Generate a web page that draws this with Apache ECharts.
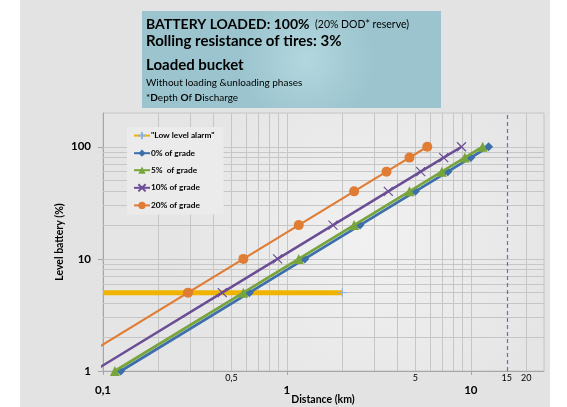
<!DOCTYPE html>
<html><head><meta charset="utf-8">
<script src="https://cdn.jsdelivr.net/npm/echarts@6/dist/echarts.min.js"></script>
<style>html,body{margin:0;padding:0;background:#fff}#c{width:567px;height:407px}</style>
</head><body><div id="c"></div><script>
// ---- data ----
const seriesNames = ['"Low level alarm"', '0% of grade', '5%  of grade', '10% of grade', '20% of grade'];
const levels = [1, 5, 10, 20, 40, 60, 80, 100];
const dist0 = [0.125, 0.625, 1.25, 2.5, 5, 7.5, 10, 12.5];
const dist5 = [0.116, 0.58, 1.16, 2.32, 4.64, 6.96, 9.28, 11.6];
const dist10 = [0.089, 0.445, 0.89, 1.78, 3.56, 5.34, 7.12, 8.9];
const dist20 = [0.058, 0.29, 0.58, 1.16, 2.32, 3.48, 4.64, 5.8];
const alarmDist = [0.1, 2];
const alarmLevel = [5, 5];
const limitDist = 15.7;
// tick labels
const xTickValues = [0.1, 1, 10];
const xTickLabels = ['0,1', '1', '10'];
const xSubValues = [0.5, 5, 20];
const xSubLabels = ['0,5', '5', '20'];
const limitLabel = '15';
const yTickValues = [1, 10, 100];
const yTickLabels = ['1', '10', '100'];
const xGridValues = [0.2, 0.3, 0.4, 0.5, 0.6, 0.7, 0.8, 0.9, 1, 2, 3, 4, 5, 6, 7, 8, 9, 10, 20];
const yGridValues = [2, 3, 4, 5, 6, 7, 8, 9, 10, 20, 30, 40, 50, 60, 70, 80, 90, 100];
const xTitle = 'Distance (km)';
const yTitle = 'Level battery (%)';

function lookup(vals, labs) {
  return function (v) {
    for (let i = 0; i < vals.length; i++) if (Math.abs(v - vals[i]) / vals[i] < 1e-6) return labs[i];
    return '';
  };
}
function pairs(xs, ys) { return xs.map((x, i) => [x, ys[i]]); }

const FONT = 'Lato';
const chart = echarts.init(document.getElementById('c'), null, {renderer: 'canvas'});

const crossPath = 'path://M0,0L10,10M10,0L0,10';
const plusPath = 'path://M5,0L5,10M0,5L10,5';
const subLabel = {show: true, position: 'start', distance: 3, fontFamily: FONT, fontSize: 9, color: '#000'};

chart.setOption({
  animation: false,
  backgroundColor: '#ffffff',
  graphic: [
    {type: 'rect', z: -10, silent: true, shape: {x: 20, y: 0, width: 530, height: 407}, style: {fill: '#e3e3e3'}},
    {type: 'rect', z: -5, silent: true, shape: {x: 142, y: 11, width: 299, height: 97},
      style: {fill: new echarts.graphic.RadialGradient(0.55, 0.5, 0.7, [{offset: 0, color: '#b3d7df'}, {offset: 1, color: '#9bc4ce'}])}},
    {type: 'text', x: 146, y: 24, style: {text: 'BATTERY LOADED: 100%', font: 'bold 14px Lato', fill: '#000', verticalAlign: 'middle'}},
    {type: 'text', x: 315, y: 25, style: {text: '(20% DOD* reserve)', font: '10.5px Lato', fill: '#000', verticalAlign: 'middle'}},
    {type: 'text', x: 146, y: 41, style: {text: 'Rolling resistance of tires: 3%', font: 'bold 15px Lato', fill: '#000', verticalAlign: 'middle'}},
    {type: 'text', x: 146, y: 65, style: {text: 'Loaded bucket', font: 'bold 15px Lato', fill: '#000', verticalAlign: 'middle'}},
    {type: 'text', x: 146, y: 83, style: {text: 'Without loading &unloading phases', font: '10px Lato', fill: '#000', verticalAlign: 'middle'}},
    {type: 'text', x: 146, y: 98, style: {text: '{n|*}{b|D}{n|epth }{b|O}{n|f }{b|D}{n|ischarge}', verticalAlign: 'middle',
      rich: {n: {fontFamily: FONT, fontSize: 10, color: '#000'}, b: {fontFamily: FONT, fontSize: 10, fontWeight: 'bold', color: '#000'}}}},
    {type: 'text', x: 323, y: 400, style: {text: xTitle, font: 'bold 10.5px Lato', fill: '#000', align: 'center', verticalAlign: 'middle'}},
    {type: 'text', x: 60, y: 242, rotation: Math.PI / 2, style: {text: yTitle, font: 'bold 10.5px Lato', fill: '#000', align: 'center', verticalAlign: 'middle'}}
  ],
  grid: {left: 103, right: 23, top: 113, bottom: 36, show: true, borderColor: '#c4c4c4', borderWidth: 1,
    backgroundColor: new echarts.graphic.RadialGradient(0.6, 0.5, 0.75, [{offset: 0, color: '#f1f1f1'}, {offset: 1, color: '#e5e5e5'}]),
    outerBoundsMode: 'none'},
  legend: {
    data: seriesNames, orient: 'vertical', left: 127, top: 127, padding: [4, 9, 5, 6], itemGap: 9,
    itemWidth: 16, itemHeight: 9, backgroundColor: '#ebebeb', z: 20,
    textStyle: {fontFamily: FONT, fontWeight: 'bold', fontSize: 8.3, color: '#000', padding: [0, 0, 0, -4]}
  },
  xAxis: {
    type: 'log', min: 0.1, max: 25, logBase: 10,
    axisLine: {show: true, lineStyle: {color: '#a6a6a6'}},
    axisTick: {show: true, length: 4, lineStyle: {color: '#a6a6a6'}},
    splitLine: {show: false}, minorSplitLine: {show: false},
    axisLabel: {formatter: lookup(xTickValues, xTickLabels), fontFamily: FONT, fontWeight: 'bold', fontSize: 11.5, color: '#000', margin: 13, showMaxLabel: false}
  },
  yAxis: {
    type: 'log', min: 1, max: 200, logBase: 10,
    axisLine: {show: true, lineStyle: {color: '#a6a6a6'}},
    axisTick: {show: true, length: 5, lineStyle: {color: '#a6a6a6'}},
    splitLine: {show: false},
    axisLabel: {formatter: lookup(yTickValues, yTickLabels), fontFamily: FONT, fontWeight: 'bold', fontSize: 11.5, color: '#000', margin: 12, showMaxLabel: false}
  },
  series: [
    {type: 'line', name: '_grid', data: [], z: 1, silent: true,
      markLine: {silent: true, z: 1, symbol: ['none', 'none'], animation: false, label: {show: false},
        lineStyle: {color: '#c6c6c6', width: 1, type: 'solid'},
        data: xGridValues.map(v => ({xAxis: v})).concat(yGridValues.map(v => ({yAxis: v})))}},
    {type: 'line', name: '_labels', data: [], z: 1, silent: true,
      markLine: {silent: true, z: 1, symbol: ['none', 'none'], animation: false,
        data: xSubValues.map((v, i) => ({xAxis: v, lineStyle: {color: 'rgba(0,0,0,0)', width: 1},
          label: Object.assign({}, subLabel, {formatter: xSubLabels[i]})}))
          .concat([{xAxis: limitDist, lineStyle: {color: '#4a7dbb', width: 1.2, type: [4, 3]},
            label: Object.assign({}, subLabel, {formatter: limitLabel})}])}},
    {type: 'line', name: seriesNames[0], z: 5, data: pairs(alarmDist, alarmLevel).map((p, i) => i === 0 ? {value: p, symbol: 'none'} : p),
      symbol: plusPath, symbolSize: 9, color: '#f0b400',
      lineStyle: {color: '#f0b400', width: 5},
      itemStyle: {color: '#8db3e2', borderColor: '#8db3e2', borderWidth: 1}},
    {type: 'line', name: seriesNames[1], z: 6, data: pairs(dist0, levels), symbol: 'diamond', symbolSize: 9,
      lineStyle: {color: '#3c6fab', width: 2.8}, itemStyle: {color: '#3c6fab'}},
    {type: 'line', name: seriesNames[2], z: 7, data: pairs(dist5, levels), symbol: 'triangle', symbolSize: 10,
      lineStyle: {color: '#77a43c', width: 2.8}, itemStyle: {color: '#77a43c'}},
    {type: 'line', name: seriesNames[3], z: 8, data: pairs(dist10, levels), symbol: crossPath, symbolSize: 9,
      lineStyle: {color: '#6a4d94', width: 2.4}, itemStyle: {color: '#6a4d94', borderColor: '#6a4d94', borderWidth: 1.2}},
    {type: 'line', name: seriesNames[4], z: 9, data: pairs(dist20, levels), symbol: 'circle', symbolSize: 10,
      lineStyle: {color: '#e07c33', width: 2.2}, itemStyle: {color: '#e07c33'}}
  ]
});
</script></body></html>
